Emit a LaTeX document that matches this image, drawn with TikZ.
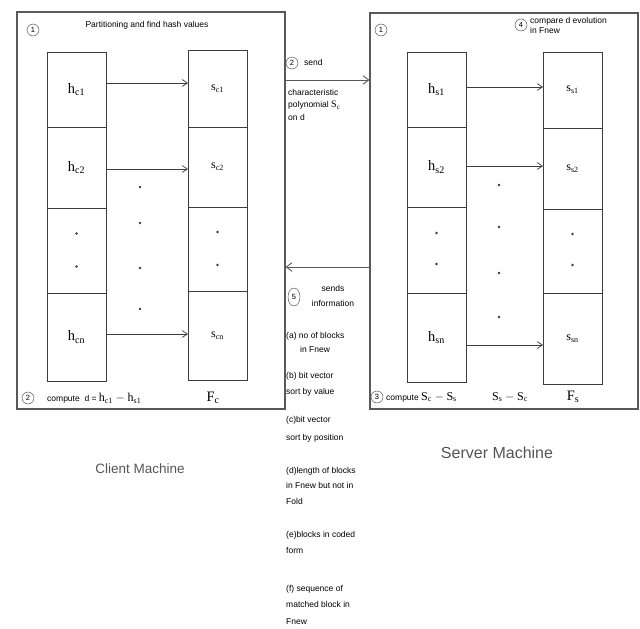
\documentclass[tikz,border=0pt]{standalone}
\usepackage{fontspec}
\setmainfont{Liberation Sans}
\setmathrm{Liberation Serif}
\usepackage{xcolor}
\usetikzlibrary{arrows.meta,positioning,shapes.geometric}
\definecolor{BoxInk}{HTML}{3C3C3C}
\definecolor{LabelGrey}{HTML}{555555}
\newcommand\notesize{\fontsize{8.5}{10}\selectfont}
\tikzset{
  machine/.style={draw=BoxInk!85, line width=1.1pt, minimum width=268pt, inner sep=0pt},
  block/.style={draw=BoxInk, line width=.7pt, minimum width=59pt, inner sep=0pt, outer sep=0pt, font=\Large},
  hashflow/.style={-{Straight Barb[length=1.8mm,width=2.4mm]}, line width=.7pt, draw=BoxInk},
  sendflow/.style={-{Straight Barb[length=2mm,width=3mm]}, line width=.9pt, draw=BoxInk!85},
  stepno/.style={draw=BoxInk, circle, minimum size=12pt, inner sep=0pt, font=\fontsize{7.5}{8}\selectfont},
  note/.style={inner sep=0pt, align=left, font=\notesize},
}
\begin{document}
\begin{tikzpicture}[x=1pt, y=-1pt]
  \useasboundingbox[fill=white] (0,0) rectangle (640,629);
  % machines
  \node[machine, minimum height=397pt] (client) at (151,210.5) {};
  \node[machine, minimum height=396pt] (server) at (504,211) {};
  \node[font=\fontsize{13.5}{15}\selectfont, text=LabelGrey] (clientname) at (140,469) {Client Machine};
  \node[font=\fontsize{16}{18}\selectfont, text=LabelGrey] (servername) at (497,453) {Server Machine};

  % client blocks
  \node[block, minimum height=75pt, anchor=north] (hc1) at (76.5,52) {$\mathrm{h}_{\mathrm{c1}}$};
  \node[block, minimum height=81pt, below=0pt of hc1] (hc2) {$\mathrm{h}_{\mathrm{c2}}$};
  \node[block, minimum height=85pt, below=0pt of hc2] (hcd) {};
  \node[block, minimum height=88pt, below=0pt of hcd] (hcn) {$\mathrm{h}_{\mathrm{cn}}$};
  \node[block, minimum height=77pt, anchor=north, font=\large] (sc1) at (217.5,50) {$\mathrm{s}_{\mathrm{c1}}$};
  \node[block, minimum height=80pt, below=0pt of sc1, font=\large] (sc2) {$\mathrm{s}_{\mathrm{c2}}$};
  \node[block, minimum height=84pt, below=0pt of sc2] (scd) {};
  \node[block, minimum height=89pt, below=0pt of scd, font=\large] (scn) {$\mathrm{s}_{\mathrm{cn}}$};
  \draw[hashflow] ([yshift=6.5pt]hc1.east) -- ([yshift=6.5pt]hc1.east -| sc1.west);
  \draw[hashflow] ([yshift=-1.5pt]hc2.east) -- ([yshift=-1.5pt]hc2.east -| sc2.west);
  \draw[hashflow] ([yshift=3pt]hcn.east) -- ([yshift=3pt]hcn.east -| scn.west);
  \foreach \s in {hcd,scd}
    \fill[BoxInk] ([yshift=17pt]\s.center) circle (1.4pt) ([yshift=-16pt]\s.center) circle (1.4pt);
  \foreach \y in {187,223,268,309}
    \fill[BoxInk] (140,\y) circle (1.4pt);

  % server blocks
  \node[block, minimum height=75pt, anchor=north] (hs1) at (436.5,52) {$\mathrm{h}_{\mathrm{s1}}$};
  \node[block, minimum height=80pt, below=0pt of hs1] (hs2) {$\mathrm{h}_{\mathrm{s2}}$};
  \node[block, minimum height=86pt, below=0pt of hs2] (hsd) {};
  \node[block, minimum height=89pt, below=0pt of hsd] (hsn) {$\mathrm{h}_{\mathrm{sn}}$};
  \node[block, minimum height=76pt, anchor=north, font=\large] (ss1) at (572.5,52) {$\mathrm{s}_{\mathrm{s1}}$};
  \node[block, minimum height=81pt, below=0pt of ss1, font=\large] (ss2) {$\mathrm{s}_{\mathrm{s2}}$};
  \node[block, minimum height=84pt, below=0pt of ss2] (ssd) {};
  \node[block, minimum height=91pt, below=0pt of ssd, font=\large] (ssn) {$\mathrm{s}_{\mathrm{sn}}$};
  \draw[hashflow] ([yshift=2.5pt]hs1.east) -- ([yshift=2.5pt]hs1.east -| ss1.west);
  \draw[hashflow] ([yshift=1pt]hs2.east) -- ([yshift=1pt]hs2.east -| ss2.west);
  \draw[hashflow] ([yshift=-7.5pt]hsn.east) -- ([yshift=-7.5pt]hsn.east -| ssn.west);
  \foreach \s in {hsd,ssd}
    \fill[BoxInk] ([yshift=17pt]\s.center) circle (1.4pt) ([yshift=-14pt]\s.center) circle (1.4pt);
  \foreach \y in {185,227,273,317}
    \fill[BoxInk] (499,\y) circle (1.4pt);

  % client texts
  \node[stepno] (c1) at (33,30) {1};
  \node[note] (partition) at (147,25) {Partitioning and find hash values};
  \node[stepno] (c2) at (28,398) {2};
  \node[note, anchor=west] (computed) at (47,398) {compute \ d = {\large$\mathrm{h}_{\mathrm{c1}}-\mathrm{h}_{\mathrm{s1}}$}};
  \node[font=\Large] (fc) at (213,398) {$\mathrm{F}_{\mathrm{c}}$};

  % server texts
  \node[stepno] (s1) at (381,30) {1};
  \node[stepno] (s4) at (521,25) {4};
  \node[note, anchor=north west] (compare) at (530,17) {compare d evolution\\in Fnew};
  \node[stepno] (s3) at (377,397) {3};
  \node[note, anchor=west] (computes) at (386,397) {compute {\large$\mathrm{S}_{\mathrm{c}}-\mathrm{S}_{\mathrm{s}}$}};
  \node[note, font=\large] (diff) at (510,397) {$\mathrm{S}_{\mathrm{s}}-\mathrm{S}_{\mathrm{c}}$};
  \node[font=\Large] (fs) at (573,397) {$\mathrm{F}_{\mathrm{s}}$};

  % exchange
  \draw[sendflow] ([yshift=130.5pt]client.east) -- ([yshift=130.5pt]client.east -| server.west);
  \node[stepno] (m2) at (292,63) {2};
  \node[note, anchor=west] (send) at (304,62) {send};
  \node[note, anchor=north west, font=\fontsize{8.5}{12.5}\selectfont] (poly) at (288,89) {characteristic\\polynomial {\normalsize$\mathrm{S}_{\mathrm{c}}$}\\on d};
  \draw[sendflow] ([yshift=-56.5pt]client.east -| server.west) -- ([yshift=-56.5pt]client.east);
  \node[stepno, ellipse, minimum width=12pt, minimum height=18pt] (m5) at (294,297) {5};
  \node[note, align=center, font=\fontsize{8.5}{15}\selectfont] (sends) at (333,296) {sends\\information};

  % information list
  \node[note, anchor=north west, font=\fontsize{8.5}{14}\selectfont] (ia) at (286,332) {(a) no of blocks\\\hspace*{14pt}in Fnew};
  \node[note, anchor=north west, font=\fontsize{8.5}{16}\selectfont] (ib) at (286,372) {(b) bit vector\\sort by value};
  \node[note, anchor=north west, font=\fontsize{8.5}{18}\selectfont] (ic) at (286,416) {(c)bit vector\\sort by position};
  \node[note, anchor=north west, font=\fontsize{8.5}{15.5}\selectfont] (id) at (286,467) {(d)length of blocks\\in Fnew but not in\\Fold};
  \node[note, anchor=north west, font=\fontsize{8.5}{16.5}\selectfont] (ie) at (286,531) {(e)blocks in coded\\form};
  \node[note, anchor=north west, font=\fontsize{8.5}{16.5}\selectfont] (if) at (286,585) {(f) sequence of\\matched block in\\Fnew};
\end{tikzpicture}
\end{document}
